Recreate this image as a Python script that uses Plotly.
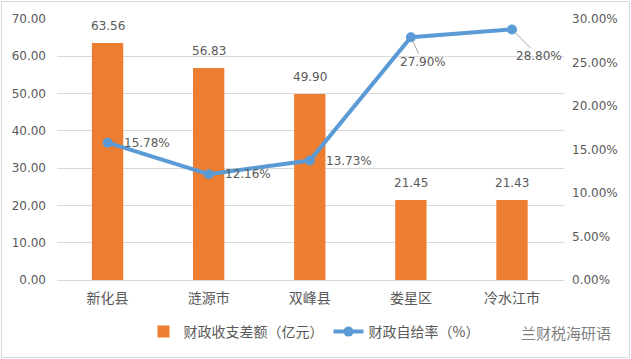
import plotly.graph_objects as go

categories = ["新化县", "涟源市", "双峰县", "娄星区", "冷水江市"]
gap_values = [63.56, 56.83, 49.90, 21.45, 21.43]
self_rate = [0.1578, 0.1216, 0.1373, 0.2790, 0.2880]
bar_name = "财政收支差额（亿元）"
line_name = "财政自给率（%）"
watermark = "兰财税海研语"

ORANGE = "#ED7D31"
BLUE = "#5B9BD5"
TXT = "#595959"
FONT = "Noto Sans CJK SC, DejaVu Sans, sans-serif"
NUMFONT = "DejaVu Sans, sans-serif"

L, R, T, B = 57, 67, 19, 79
W, H = 631, 359
PW, PH = W - L - R, H - T - B

fig = go.Figure()
fig.add_trace(go.Bar(
    x=categories, y=gap_values, name=bar_name,
    marker=dict(color=ORANGE, line=dict(width=0)),
    width=0.31, yaxis="y",
))
fig.add_trace(go.Scatter(
    x=categories, y=self_rate, name=line_name, yaxis="y2",
    mode="lines+markers",
    line=dict(color=BLUE, width=4),
    marker=dict(color=BLUE, size=10),
))

annotations = []
for c, v in zip(categories, gap_values):
    annotations.append(dict(
        x=c, y=v, xref="x", yref="y", text=f"{v:.2f}", showarrow=False,
        yanchor="bottom", yshift=8, font=dict(family=NUMFONT, size=12, color=TXT),
    ))
for i, (c, v) in enumerate(zip(categories, self_rate)):
    txt = f"{v*100:.2f}%"
    if i < 3:
        annotations.append(dict(
            x=c, y=v, xref="x", yref="y2", text=txt, showarrow=False,
            xanchor="left", xshift=14, font=dict(family=NUMFONT, size=12, color=TXT),
        ))
    else:
        off = (12, 25) if i == 3 else (27, 27)
        annotations.append(dict(
            x=c, y=v, xref="x", yref="y2", text=txt, showarrow=True,
            arrowhead=0, arrowwidth=1, arrowcolor="#A6A6A6", standoff=4,
            ax=off[0], ay=off[1], font=dict(family=NUMFONT, size=12, color=TXT),
        ))
annotations.append(dict(
    x=(566 - L) / PW, y=(H - B - 332) / PH, xref="paper", yref="paper",
    text=watermark, showarrow=False, xanchor="center", yanchor="middle",
    font=dict(family=FONT, size=15, color="#7F7F7F"),
))

fig.update_layout(
    width=W, height=H,
    margin=dict(l=L, r=R, t=T, b=B, autoexpand=False),
    paper_bgcolor="white", plot_bgcolor="white",
    font=dict(family=FONT, size=12, color=TXT),
    showlegend=True,
    legend=dict(
        orientation="h", x=(314 - L) / PW, y=(H - B - 332) / PH,
        xanchor="center", yanchor="middle",
        font=dict(family=FONT, size=14, color=TXT),
        itemwidth=30, bgcolor="rgba(0,0,0,0)",
    ),
    xaxis=dict(
        type="category", showgrid=False, zeroline=False,
        showline=False, ticks="", automargin=False, ticklabelstandoff=8,
        tickfont=dict(family=FONT, size=14, color=TXT),
    ),
    yaxis=dict(
        range=[0, 70], dtick=10, tickformat=".2f", automargin=False,
        showgrid=True, gridcolor="#D9D9D9", gridwidth=1,
        zeroline=True, zerolinecolor="#D9D9D9", zerolinewidth=1,
        showline=False, ticks="", ticklabelstandoff=10,
        tickfont=dict(family=NUMFONT, size=12, color=TXT),
    ),
    yaxis2=dict(
        range=[0, 0.30], dtick=0.05, tickformat=".2%", automargin=False,
        overlaying="y", side="right", showgrid=False, zeroline=False,
        showline=False, ticks="", ticklabelstandoff=7,
        tickfont=dict(family=NUMFONT, size=12, color=TXT),
    ),
    annotations=annotations,
    shapes=[dict(
        type="rect", xref="paper", yref="paper",
        x0=(1.5 - L) / PW, x1=(629.5 - L) / PW,
        y0=(H - B - 357.5) / PH, y1=(H - B - 1.5) / PH,
        line=dict(color="#D9D9D9", width=1), fillcolor="rgba(0,0,0,0)",
        layer="below",
    )],
)

fig.write_html(
    "out.html",
    config={"displayModeBar": False},
    post_script="document.body.style.margin='0';document.body.style.overflow='hidden';",
)
